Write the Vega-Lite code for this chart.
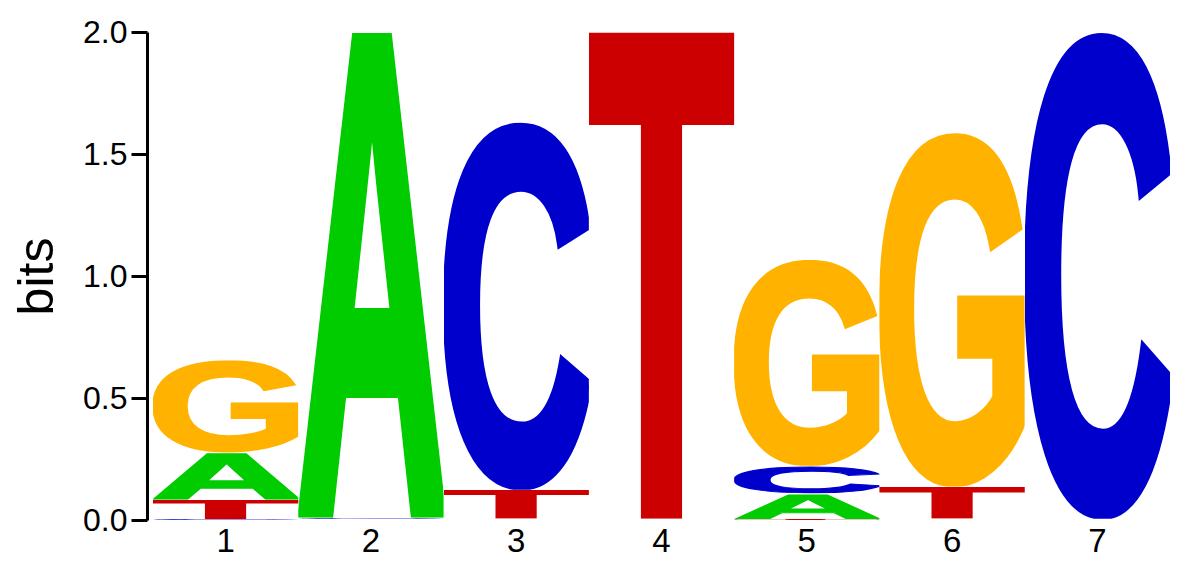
{
  "$schema": "https://vega.github.io/schema/vega-lite/v6.json",
  "autosize": "none",
  "width": 1017,
  "height": 488,
  "padding": {"left": 153, "top": 32, "right": 24, "bottom": 45},
  "background": "white",
  "config": {
    "view": {"stroke": null},
    "font": "Liberation Sans"
  },
  "data": {
    "values": [
      {"pos": "1", "base": "C", "bits": 0.003},
      {"pos": "1", "base": "T", "bits": 0.08},
      {"pos": "1", "base": "A", "bits": 0.192},
      {"pos": "1", "base": "G", "bits": 0.38},
      {"pos": "2", "base": "G", "bits": 0.002},
      {"pos": "2", "base": "T", "bits": 0.003},
      {"pos": "2", "base": "C", "bits": 0.004},
      {"pos": "2", "base": "A", "bits": 1.99},
      {"pos": "3", "base": "G", "bits": 0.002},
      {"pos": "3", "base": "A", "bits": 0.003},
      {"pos": "3", "base": "T", "bits": 0.119},
      {"pos": "3", "base": "C", "bits": 1.506},
      {"pos": "4", "base": "G", "bits": 0.002},
      {"pos": "4", "base": "A", "bits": 0.003},
      {"pos": "4", "base": "T", "bits": 1.995},
      {"pos": "5", "base": "T", "bits": 0.004},
      {"pos": "5", "base": "A", "bits": 0.105},
      {"pos": "5", "base": "C", "bits": 0.113},
      {"pos": "5", "base": "G", "bits": 0.845},
      {"pos": "6", "base": "C", "bits": 0.002},
      {"pos": "6", "base": "A", "bits": 0.003},
      {"pos": "6", "base": "T", "bits": 0.132},
      {"pos": "6", "base": "G", "bits": 1.45},
      {"pos": "7", "base": "G", "bits": 0.002},
      {"pos": "7", "base": "T", "bits": 0.003},
      {"pos": "7", "base": "C", "bits": 1.993}
    ]
  },
  "transform": [
    {
      "stack": "bits",
      "groupby": ["pos"],
      "sort": [{"field": "bits", "order": "ascending"}],
      "as": ["bits_lo", "bits_hi"]
    }
  ],
  "mark": {"type": "image", "aspect": false, "width": {"band": 1}},
  "encoding": {
    "x": {
      "field": "pos",
      "type": "ordinal",
      "scale": {"paddingInner": 0, "paddingOuter": 0},
      "axis": {
        "title": null,
        "domain": false,
        "ticks": false,
        "labelAngle": 0,
        "labelFontSize": 33,
        "labelPadding": 5,
        "labelColor": "black"
      }
    },
    "y": {
      "field": "bits_lo",
      "type": "quantitative",
      "scale": {"domain": [0, 2], "nice": false},
      "axis": {
        "title": "bits",
        "titleFontSize": 50,
        "titleFontWeight": "normal",
        "titleColor": "black",
        "titlePadding": 20,
        "values": [0, 0.5, 1, 1.5, 2],
        "format": ".1f",
        "labelFontSize": 32,
        "labelColor": "black",
        "labelPadding": 4,
        "domainColor": "black",
        "domainWidth": 3,
        "tickColor": "black",
        "tickWidth": 3,
        "tickSize": 16,
        "offset": 6,
        "grid": false
      }
    },
    "y2": {"field": "bits_hi"},
    "url": {
      "condition": [
        {"test": "datum.base === 'A'", "value": "data:image/svg+xml;utf8,%3Csvg xmlns='http://www.w3.org/2000/svg' viewBox='13 -701 686 713' preserveAspectRatio='none'%3E%3Ctext x='0' y='0' font-family='Liberation Sans' font-weight='bold' font-size='1000' fill='%2300cc00' stroke='%2300cc00' stroke-width='24'%3EA%3C/text%3E%3C/svg%3E"},
        {"test": "datum.base === 'C'", "value": "data:image/svg+xml;utf8,%3Csvg xmlns='http://www.w3.org/2000/svg' viewBox='32 -711 661 731' preserveAspectRatio='none'%3E%3Ctext x='0' y='0' font-family='Liberation Sans' font-weight='bold' font-size='1000' fill='%230000cc' stroke='%230000cc' stroke-width='24'%3EC%3C/text%3E%3C/svg%3E"},
        {"test": "datum.base === 'G'", "value": "data:image/svg+xml;utf8,%3Csvg xmlns='http://www.w3.org/2000/svg' viewBox='32 -711 695 731' preserveAspectRatio='none'%3E%3Ctext x='0' y='0' font-family='Liberation Sans' font-weight='bold' font-size='1000' fill='%23ffb300' stroke='%23ffb300' stroke-width='24'%3EG%3C/text%3E%3C/svg%3E"}
      ],
      "value": "data:image/svg+xml;utf8,%3Csvg xmlns='http://www.w3.org/2000/svg' viewBox='9 -701 593 713' preserveAspectRatio='none'%3E%3Ctext x='0' y='0' font-family='Liberation Sans' font-weight='bold' font-size='1000' fill='%23cc0000' stroke='%23cc0000' stroke-width='24'%3ET%3C/text%3E%3C/svg%3E"
    }
  }
}
